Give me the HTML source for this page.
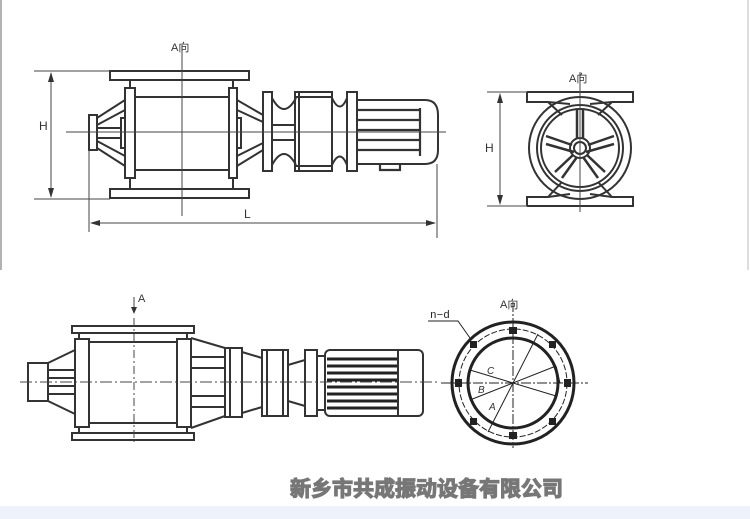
<!DOCTYPE html>
<html><head><meta charset="utf-8"><style>
body{margin:0;width:750px;height:519px;background:#fff;overflow:hidden;position:relative}
svg{position:absolute;left:0;top:0}
.t{font-family:"Liberation Sans","Noto Sans CJK SC",sans-serif;fill:#333}
</style></head><body>
<svg width="750" height="519" viewBox="0 0 750 519">
<rect x="0" y="506" width="750" height="13" fill="#eef2fa"/>
<line x1="1" y1="0" x2="1" y2="270" stroke="#999" stroke-width="1.5"/>
<line x1="748" y1="0" x2="748" y2="270" stroke="#bbb" stroke-width="1"/>
<g fill="none" stroke="#333" stroke-width="2">
<rect x="110" y="71" width="139" height="9"/>
<rect x="110" y="189" width="139" height="9"/>
<rect x="125" y="88" width="10" height="90"/>
<rect x="229" y="88" width="8" height="90"/>
<rect x="135" y="97" width="94" height="73"/>
<line x1="130" y1="80" x2="130" y2="88"/><line x1="130" y1="178" x2="130" y2="189"/>
<line x1="233" y1="80" x2="233" y2="88"/><line x1="233" y1="178" x2="233" y2="189"/>
<rect x="89" y="115" width="8" height="35"/>
<rect x="121" y="118" width="4" height="30"/>
<rect x="237" y="118" width="4" height="30"/>
<path d="M97 118L125 100M97 125L125 110M97 148L125 166M97 141L125 156M97 128H121M97 138H121"/>
<path d="M237 100L263 115M237 110L263 122M237 166L263 150M237 156L263 143"/>
<rect x="263" y="92" width="9" height="79"/>
<path d="M272 98Q284 120 296 98M272 165Q284 143 296 165"/>
<rect x="295" y="92" width="37" height="79"/>
<line x1="299" y1="92" x2="299" y2="171"/><line x1="295" y1="97" x2="332" y2="97"/><line x1="295" y1="166" x2="332" y2="166"/>
<path d="M332 98Q340 115 347 98M332 165Q340 148 347 165"/>
<rect x="347" y="92" width="10" height="79"/>
<path d="M357 100H425Q438 100 438 115V150Q438 164 425 164H357"/>
<path d="M358 110H420M358 120H420M358 130H420M358 140H420M358 150H420M420 108V156M380 164V170H400V164" stroke-width="2.2"/>
<line x1="272" y1="125" x2="295" y2="125"/><line x1="272" y1="140" x2="295" y2="140"/>
<path d="M527 92H633V102H612L590 104M527 92V102H548L570 104"/>
<path d="M527 206H633V197H612L590 194M527 206V197H548L570 194"/>
<line x1="548" y1="102" x2="562" y2="115"/><line x1="612" y1="102" x2="598" y2="115"/>
<line x1="548" y1="197" x2="562" y2="182"/><line x1="612" y1="197" x2="598" y2="182"/>
<circle cx="580" cy="148" r="51"/>
<circle cx="580" cy="148" r="43"/>
<circle cx="580" cy="148" r="39"/>
<circle cx="580" cy="148" r="10"/>
<circle cx="580" cy="148" r="6"/>
<path d="M577 139L577 110M583 139L583 110M572 145L546 136M574 152L546 144M573 155L555 172M577 157L562 178M588 145L614 136M586 152L614 144M587 155L605 172M583 157L598 178" stroke-width="2.5"/>
<rect x="72" y="326" width="122" height="7"/>
<rect x="72" y="433" width="122" height="7"/>
<rect x="75" y="339" width="14" height="88"/>
<rect x="177" y="339" width="14" height="88"/>
<rect x="89" y="342" width="88" height="81"/>
<line x1="79" y1="333" x2="79" y2="339"/><line x1="187" y1="333" x2="187" y2="339"/>
<line x1="79" y1="427" x2="79" y2="433"/><line x1="187" y1="427" x2="187" y2="433"/>
<rect x="28" y="363" width="20" height="38"/>
<path d="M48 363L75 350M48 401L75 414M48 370H75M48 378H75M48 386H75M48 394H75"/>
<path d="M191 338L225 348M191 428L225 416M191 357H225M191 368H225M191 396H225M191 407H225"/>
<rect x="225" y="348" width="17" height="69"/>
<line x1="230" y1="348" x2="230" y2="417"/>
<path d="M242 352L262 358M242 413L262 407"/>
<rect x="262" y="350" width="26" height="66"/>
<line x1="267" y1="350" x2="267" y2="416"/><line x1="283" y1="350" x2="283" y2="416"/>
<path d="M288 365L305 360M288 401L305 406"/>
<rect x="305" y="350" width="12" height="66"/>
<rect x="317" y="356" width="8" height="54"/>
<rect x="325" y="350" width="98" height="66" rx="5"/>
<line x1="398" y1="350" x2="398" y2="416"/>
</g>
<g stroke="#222" stroke-width="3">
<path d="M327 359H397M327 366H397M327 373H397M327 380H397M327 387H397M327 394H397M327 401H397M327 408H397"/>
</g>
<g fill="none" stroke="#222">
<circle cx="513" cy="383" r="61" stroke-width="3"/>
<circle cx="513" cy="383" r="45" stroke-width="3"/>
<circle cx="513" cy="383" r="54" stroke-width="1" stroke-dasharray="6,2"/>
<g stroke-width="1">
<line x1="441" y1="383" x2="588" y2="383" stroke-dasharray="10,2,2,2"/>
<line x1="513" y1="302" x2="513" y2="448" stroke-dasharray="10,2,2,2"/>
<line x1="470" y1="370" x2="556" y2="396"/>
<line x1="470" y1="400" x2="556" y2="366"/>
<line x1="488" y1="432" x2="538" y2="334"/>
<line x1="560" y1="383" x2="556" y2="366"/>
<path d="M428 321H458L470 338"/>
</g>
</g>
<g fill="#222">
<rect x="509" y="327" width="8" height="7"/><rect x="509" y="432" width="8" height="7"/>
<rect x="455" y="379" width="7" height="8"/><rect x="564" y="379" width="7" height="8"/>
<rect x="470" y="341" width="7" height="7"/><rect x="549" y="341" width="7" height="7"/>
<rect x="470" y="418" width="7" height="7"/><rect x="549" y="418" width="7" height="7"/>
</g>
<g stroke="#444" stroke-width="1" fill="none">
<line x1="182" y1="45" x2="182" y2="216"/>
<line x1="66" y1="132" x2="446" y2="132"/>
<line x1="34" y1="71" x2="110" y2="71"/><line x1="34" y1="199" x2="110" y2="199"/>
<line x1="51" y1="73" x2="51" y2="197"/>
<line x1="89" y1="150" x2="89" y2="232"/><line x1="437" y1="164" x2="437" y2="238"/>
<line x1="91" y1="223" x2="435" y2="223"/>
<line x1="580" y1="72" x2="580" y2="212"/>
<line x1="487" y1="92" x2="527" y2="92"/><line x1="487" y1="206" x2="527" y2="206"/>
<line x1="500" y1="94" x2="500" y2="204"/>
<line x1="20" y1="382" x2="440" y2="382" stroke-dasharray="12,3,2,3"/>
<line x1="134" y1="318" x2="134" y2="442" stroke-dasharray="8,3,2,3"/>
<line x1="134" y1="297" x2="134" y2="312"/>
</g>
<g fill="#333">
<path d="M51 72L48 82H54Z"/><path d="M51 198L48 188H54Z"/>
<path d="M90 223L100 220V226Z"/><path d="M436 223L426 220V226Z"/>
<path d="M500 93L497 103H503Z"/><path d="M500 205L497 195H503Z"/>
<path d="M134 314L131 307H137Z"/>
</g>
<text class="t" x="171" y="51" font-size="11">A向</text>
<text class="t" x="39" y="130" font-size="12">H</text>
<text class="t" x="244" y="218" font-size="12">L</text>
<text class="t" x="569" y="82" font-size="11">A向</text>
<text class="t" x="485" y="152" font-size="12">H</text>
<text class="t" x="138" y="302" font-size="11">A</text>
<text class="t" x="500" y="308" font-size="11">A向</text>
<text x="430" y="318" font-size="11" font-family="Liberation Mono,monospace" fill="#222">n−d</text>
<text class="t" x="487" y="374" font-size="10" font-style="italic">C</text>
<text class="t" x="478" y="393" font-size="10" font-style="italic">B</text>
<text class="t" x="489" y="410" font-size="10" font-style="italic">A</text>
<text x="290" y="496" font-size="21" font-weight="bold" fill="#777" stroke="#777" stroke-width="1.2" font-family="'Noto Sans CJK SC','WenQuanYi Zen Hei',sans-serif">新乡市共成振动设备有限公司</text>
</svg>
</body></html>
